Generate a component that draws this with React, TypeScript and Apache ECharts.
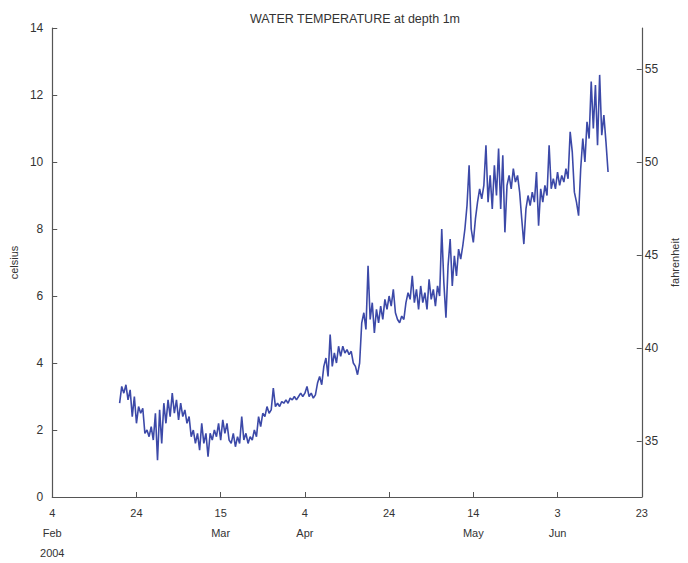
import React, { useEffect, useRef } from "react";
import * as echarts from "echarts";

// Sampling: first sample at day 16 after 4 Feb 2004 (20 Feb), one sample every 12 h
const START_DAY = 16;
const STEP_DAYS = 0.5;

// Water temperature at 1 m depth (°C)
const tempC: number[] = [
  2.8, 3.3, 3.1, 3.35, 2.9, 3.2, 2.4, 3.0, 2.2, 2.7,
  2.5, 2.65, 1.9, 2.0, 1.8, 2.1, 1.7, 2.5, 1.1, 2.6,
  1.6, 2.8, 2.2, 2.9, 2.4, 3.1, 2.5, 2.9, 2.3, 2.8,
  2.4, 2.6, 2.2, 2.4, 1.8, 2.0, 1.6, 1.9, 1.4, 2.2,
  1.6, 1.9, 1.2, 1.9, 1.7, 2.0, 1.8, 2.2, 1.7, 2.3,
  1.9, 2.2, 1.7, 1.6, 1.9, 1.5, 1.8, 1.6, 2.4, 1.7,
  1.9, 1.6, 1.8, 1.7, 2.0, 1.8, 2.4, 2.1, 2.5, 2.4,
  2.7, 2.5, 2.6, 3.25, 2.7, 2.8, 2.7, 2.85, 2.8, 2.9,
  2.8, 2.95, 2.9, 3.0, 2.9, 3.0, 3.1, 3.0, 3.1, 3.3,
  3.0, 3.1, 2.95, 3.05, 3.4, 3.6, 3.35, 3.9, 4.15, 3.6,
  4.85, 3.9, 4.3, 4.0, 4.5, 4.2, 4.5, 4.3, 4.4, 4.25,
  4.35, 4.0, 3.9, 3.65, 4.0, 5.2, 5.5, 5.0, 6.9, 5.3,
  5.8, 4.9, 5.6, 5.2, 5.7, 5.3, 5.9, 5.6, 6.0, 5.7,
  6.2, 5.5, 5.3, 5.2, 5.4, 5.3, 5.8, 6.1, 5.9, 6.6,
  5.8, 6.2, 5.6, 6.3, 5.8, 6.1, 5.6, 6.5, 5.9, 6.2,
  5.7, 6.3, 6.0, 8.0, 6.4, 5.35, 6.9, 7.7, 6.3, 7.2,
  6.6, 7.4, 7.1, 7.5, 8.0, 8.7, 9.9, 8.0, 7.6, 8.3,
  8.8, 9.2, 8.9, 9.3, 10.5, 8.8, 9.6, 8.6, 9.9, 9.0,
  10.4, 8.6, 10.2, 7.9, 9.3, 9.6, 9.2, 9.8, 9.4, 9.6,
  9.1, 8.3, 7.55, 8.6, 9.0, 8.7, 9.1, 8.8, 9.7, 8.1,
  9.2, 8.8, 9.3, 9.0, 10.5, 9.2, 9.5, 9.2, 9.7, 9.3,
  9.6, 9.4, 9.8, 9.5, 10.9, 10.3, 9.1, 8.8, 8.4, 9.8,
  10.7, 10.0, 11.2, 10.7, 12.4, 11.0, 12.3, 10.5, 12.6, 10.8,
  11.4, 10.6, 9.7,
];

// X ticks every 20 days from 4 Feb 2004 (day 0) to 23 Jun 2004 (day 140)
const xTickDays = [0, 20, 40, 60, 80, 100, 120, 140];
const xTickLabels = ["4\nFeb\n2004", "24", "15\nMar", "4\nApr", "24", "14\nMay", "3\nJun", "23"];
const fahrenheitTicks = [35, 40, 45, 50, 55];

const FONT = "Liberation Sans, Arial, Helvetica, sans-serif";
const AXIS_COLOR = "#555";
const TEXT_COLOR = "#333";

export default function App() {
  const ref = useRef<HTMLDivElement>(null);

  useEffect(() => {
    if (!ref.current) return;
    const chart = echarts.init(ref.current, undefined, { renderer: "svg" });
    const data = tempC.map((v, i) => [START_DAY + i * STEP_DAYS, v]);
    const cMin = 0;
    const cMax = 14;
    chart.setOption({
      animation: false,
      backgroundColor: "#fff",
      textStyle: { fontFamily: FONT },
      title: {
        text: "WATER TEMPERATURE at depth 1m",
        left: 350,
        textAlign: "center",
        top: 7,
        textStyle: { fontSize: 12.5, fontWeight: "normal", color: TEXT_COLOR, fontFamily: FONT },
      },
      grid: { left: 52, right: 37, top: 28, bottom: 63, containLabel: false },
      xAxis: {
        type: "value",
        min: 0,
        max: 140,
        interval: 20,
        splitLine: { show: false },
        axisLine: { show: true, onZero: false, lineStyle: { color: AXIS_COLOR, width: 1.2 } },
        axisTick: { show: true, inside: true, length: 5, lineStyle: { color: AXIS_COLOR } },
        axisLabel: {
          color: TEXT_COLOR,
          fontSize: 11,
          lineHeight: 20,
          margin: 6,
          verticalAlign: "top",
          showMinLabel: true,
          showMaxLabel: true,
          formatter: (v: number) => {
            const k = xTickDays.indexOf(Math.round(v));
            return k >= 0 ? xTickLabels[k] : "";
          },
        },
      },
      yAxis: [
        {
          type: "value",
          min: cMin,
          max: cMax,
          interval: 2,
          position: "left",
          name: "celsius",
          nameLocation: "middle",
          nameRotate: 90,
          nameGap: 33,
          nameTextStyle: { color: TEXT_COLOR, fontSize: 11 },
          splitLine: { show: false },
          axisLine: { show: true, lineStyle: { color: AXIS_COLOR, width: 1.2 } },
          axisTick: { show: true, inside: true, length: 5, lineStyle: { color: AXIS_COLOR } },
          axisLabel: { color: TEXT_COLOR, fontSize: 12, margin: 9 },
        },
        {
          type: "value",
          min: cMin * 1.8 + 32,
          max: cMax * 1.8 + 32,
          position: "right",
          name: "fahrenheit",
          nameLocation: "middle",
          nameRotate: 90,
          nameGap: 27,
          nameTextStyle: { color: TEXT_COLOR, fontSize: 11 },
          splitLine: { show: false },
          axisLine: { show: true, lineStyle: { color: AXIS_COLOR, width: 1.2 } },
          axisTick: {
            show: true,
            inside: true,
            length: 5,
            customValues: fahrenheitTicks,
            lineStyle: { color: AXIS_COLOR },
          },
          axisLabel: {
            color: TEXT_COLOR,
            fontSize: 12,
            margin: 3,
            customValues: fahrenheitTicks,
          },
        },
      ],
      series: [
        {
          type: "line",
          data,
          yAxisIndex: 0,
          showSymbol: false,
          symbol: "none",
          lineStyle: { color: "#3c49a8", width: 1.6 },
        },
      ],
    });
    return () => chart.dispose();
  }, []);

  return (
    <div
      ref={ref}
      style={{ position: "fixed", left: 0, top: 0, width: 688, height: 563 }}
    />
  );
}
